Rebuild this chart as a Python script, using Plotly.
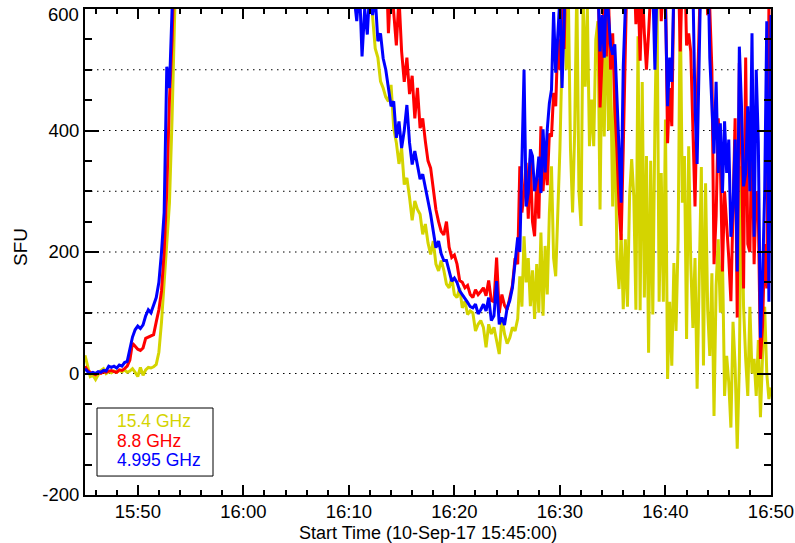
import pandas as pd
import plotly.graph_objects as go

# ---------------- data ----------------
# sampling segments (start time, number of samples, step)
seg_start = ["2017-09-10 15:45:00", "2017-09-10 15:55:00", "2017-09-10 16:09:30", "2017-09-10 16:26:00"]
seg_count = [37, 15, 66, 121]
seg_step = ["15s", "60s", "15s", "12s"]

# 15.4 GHz
y154_s1 = [30, 10, -5, -3, -10, -2, 5, 8, 0, 3, 1, 4, 2, 5, 3, 6, 2, 4, 8, 2, -5, 10, -3, 6, 10, 9, 11, 15,
           35, 85, 150, 200, 280, 420, 580, 700, 850]
y154_s2 = [1500, 2400, 3300, 4100, 4800, 5400, 5800, 5600, 5000, 4200, 3300, 2500, 1800, 1300, 1000]
y154_s3 = [800, 800, 790, 780, 770, 760, 740, 720, 700, 670,
           640, 580, 535, 520, 481, 470, 455, 448, 475, 404,
           380, 345, 371, 311, 322, 290, 252, 284, 270, 262,
           229, 246, 215, 196, 218, 180, 169, 186, 170, 147,
           141, 158, 130, 125, 141, 108, 119, 97, 103, 100,
           70, 81, 87, 76, 43, 81, 65, 76, 55, 32,
           92, 65, 49, 59, 76, 70]
y154_s4 = [90, 160, 110, 226, 150, 190, 111, 170, 90, 180,
           100, 232, 95, 210, 130, 264, 341, 190, 160, 260,
           370, 522, 640, 500, 620, 370, 265, 400, 640, 300,
           243, 620, 472, 600, 374, 451, 374, 550, 580, 270,
           560, 390, 620, 400, 500, 275, 470, 188, 139, 230,
           106, 221, 110, 292, 353, 292, 105, 555, 104, 480,
           125, 358, 34, 350, 97, 412, 620, 118, 330, 118,
           418, -9, 118, 13, 182, 70, 221, 620, 281, 358,
           57, 374, 180, 75, 190, -25, 150, 340, 13, 313,
           105, 29, 165, -70, 145, 221, 100, 195, -37, 29,
           -15, -89, 85, 13, -124, 13, 341, 110, 24, -37,
           110, 0, 24, -37, 55, -72, 30, 110, 0, -42, -23]

# 8.8 GHz
y88_s1 = [12, 5, 2, 0, -2, 1, 0, 3, 2, 4, 5, 3, 2, 6, 5, 8, 12, 22, 50, 45, 40, 38, 42, 58, 60, 62, 64, 85,
          105, 136, 200, 300, 450, 550, 650, 800, 900]
y88_s2 = [1400, 2200, 3000, 3800, 4500, 5000, 5300, 5100, 4600, 3900, 3100, 2400, 1800, 1400, 1150]
y88_s3 = [1100, 1080, 1050, 1020, 1000, 980, 950, 920, 900, 870,
          840, 800, 760, 720, 680, 640, 700, 560, 650, 600,
          540, 620, 530, 480, 520, 460, 490, 420, 470, 404,
          420, 382, 350, 338, 300, 270, 250, 234, 228, 250,
          208, 191, 195, 180, 153, 150, 141, 145, 130, 125,
          138, 130, 135, 141, 128, 153, 120, 118, 191, 100,
          130, 112, 105, 125, 145, 190]
y88_s4 = [180, 341, 265, 300, 347, 255, 355, 250, 226, 320,
          255, 407, 300, 358, 310, 395, 390, 462, 440, 550,
          500, 620, 534, 700, 720, 740, 760, 780, 800, 800,
          800, 800, 780, 760, 740, 720, 700, 680, 700, 438,
          520, 640, 522, 620, 500, 560, 438, 369, 275, 220,
          369, 620, 700, 720, 700, 680, 575, 640, 515, 640,
          560, 500, 560, 650, 700, 700, 700, 700, 580, 650,
          640, 379, 470, 407, 640, 700, 680, 530, 660, 700,
          540, 560, 530, 400, 275, 450, 640, 700, 700, 680,
          590, 600, 500, 180, 259, 420, 350, 168, 300, 250,
          190, 119, 300, 420, 92, 511, 380, 140, 520, 213,
          200, 420, 180, 300, 260, 24, 78, 213, 140, 600, 300]

# 4.995 GHz
y50_s1 = [8, 3, 0, 2, 0, 3, 2, 5, 4, 12, 10, 12, 9, 14, 12, 18, 20, 40, 60, 72, 78, 74, 80, 95, 105, 100,
          112, 125, 150, 200, 265, 505, 470, 620, 800, 900, 1000]
y50_s2 = [1300, 2000, 2700, 3400, 4000, 4400, 4600, 4400, 4000, 3400, 2700, 2100, 1600, 1200, 1000]
y50_s3 = [900, 700, 620, 700, 620, 580, 640, 522, 600, 558,
          640, 590, 620, 547, 560, 519, 500, 470, 440, 448,
          388, 415, 371, 400, 442, 380, 344, 366, 340, 320,
          328, 306, 289, 262, 234, 207, 218, 197, 186, 186,
          169, 152, 157, 150, 136, 130, 125, 117, 110, 108,
          114, 98, 105, 114, 103, 125, 87, 95, 152, 81,
          92, 80, 108, 120, 141, 185]
y50_s4 = [224, 200, 341, 500, 275, 297, 369, 358, 300, 320,
          357, 297, 402, 331, 402, 445, 467, 595, 495, 550,
          620, 470, 640, 700, 720, 740, 760, 780, 800, 800,
          800, 800, 780, 760, 740, 720, 700, 680, 640, 530,
          590, 520, 640, 595, 540, 525, 542, 456, 374, 281,
          505, 640, 700, 720, 700, 700, 700, 700, 700, 700,
          700, 700, 680, 700, 640, 500, 640, 700, 700, 700,
          600, 440, 520, 480, 640, 700, 700, 700, 700, 700,
          700, 700, 700, 640, 440, 345, 640, 700, 700, 700,
          700, 520, 450, 362, 480, 330, 412, 297, 415, 330,
          385, 225, 273, 385, 168, 538, 442, 308, 330, 440,
          300, 560, 225, 500, 380, 59, 156, 300, 580, 118, 590]

series_names = ["15.4 GHz", "8.8 GHz", "4.995 GHz"]
series_colors = ["#d4d400", "#ff0000", "#0000ff"]

x_tickvals = ["2017-09-10 15:50", "2017-09-10 16:00", "2017-09-10 16:10", "2017-09-10 16:20",
              "2017-09-10 16:30", "2017-09-10 16:40", "2017-09-10 16:50"]
x_ticktext = ["15:50", "16:00", "16:10", "16:20", "16:30", "16:40", "16:50"]
y_tickvals = [-200, 0, 200, 400, 600]
y_ticktext = ["-200", "0", "200", "400", "600"]
grid_levels = [0, 100, 200, 300, 400, 500]

# ---------------- build ----------------
times = pd.DatetimeIndex([])
for s, n, st in zip(seg_start, seg_count, seg_step):
    times = times.append(pd.date_range(s, periods=n, freq=st))

values = [
    y154_s1 + y154_s2 + y154_s3 + y154_s4,
    y88_s1 + y88_s2 + y88_s3 + y88_s4,
    y50_s1 + y50_s2 + y50_s3 + y50_s4,
]

FONT = "Liberation Sans, Arial, Helvetica, sans-serif"
fig = go.Figure()
for name, col, vals in zip(series_names, series_colors, values):
    fig.add_trace(go.Scatter(x=times, y=vals, mode="lines", name=name,
                             line=dict(color=col, width=3)))

for g in grid_levels:
    fig.add_hline(y=g, line=dict(color="black", width=1, dash="1.5px,4.5px"), layer="below")

fig.update_xaxes(
    range=["2017-09-10 15:45:00", "2017-09-10 16:50:00"],
    tickmode="array", tickvals=x_tickvals, ticktext=x_ticktext,
    ticks="inside", ticklen=10, tickwidth=2, tickcolor="black",
    minor=dict(tickmode="linear", tick0="2017-09-10 15:46:00", dtick=120000,
               ticks="inside", ticklen=5, tickwidth=2, tickcolor="black"),
    showline=True, linecolor="black", linewidth=2, mirror="ticks",
    showgrid=False, zeroline=False, automargin=False,
    ticklabelstandoff=-1, ticklabeloverflow="allow",
    tickfont=dict(family=FONT, size=18.5, color="black"),
)
# the top label ("600") is drawn as an annotation so it can sit just inside the page, as in the original
fig.update_yaxes(
    range=[-200, 600],
    tickmode="array", tickvals=y_tickvals,
    ticktext=[t if v != 600 else "" for v, t in zip(y_tickvals, y_ticktext)],
    ticks="inside", ticklen=14, tickwidth=2, tickcolor="black",
    minor=dict(tickmode="linear", tick0=0, dtick=50,
               ticks="inside", ticklen=7, tickwidth=2, tickcolor="black"),
    showline=True, linecolor="black", linewidth=2, mirror="ticks",
    showgrid=False, zeroline=False, automargin=False,
    ticklabeloverflow="allow",
    tickfont=dict(family=FONT, size=18.5, color="black"),
)

annotations = [
    dict(text="Start Time (10-Sep-17 15:45:00)", xref="paper", yref="paper", x=0.5, y=-0.0772,
         xanchor="center", yanchor="middle", showarrow=False, borderpad=0,
         font=dict(family=FONT, size=18, color="black")),
    dict(text="SFU", xref="paper", yref="paper", x=-0.095, y=0.51, textangle=-90,
         xanchor="center", yanchor="middle", showarrow=False, font=dict(family=FONT, size=19, color="black")),
    dict(text=y_ticktext[y_tickvals.index(600)], xref="paper", yref="y", x=0, y=600,
         xanchor="right", yanchor="middle", xshift=-5, yshift=-5, showarrow=False, borderpad=0,
         font=dict(family=FONT, size=18.5, color="black")),
]
legend_y = [0.153, 0.112, 0.071]
for name, col, ly in zip(series_names, series_colors, legend_y):
    annotations.append(dict(text=name, xref="paper", yref="paper", x=0.045, y=ly,
                            xanchor="left", yanchor="middle", showarrow=False, borderpad=0,
                            font=dict(family=FONT, size=17.5, color=col)))

fig.add_shape(type="rect", xref="paper", yref="paper", x0=0.0175, x1=0.1866, y0=0.039, y1=0.179,
              line=dict(color="black", width=1), fillcolor="white", layer="above")

fig.update_layout(
    width=795, height=543,
    margin=dict(l=85, r=24, t=9, b=48),
    plot_bgcolor="white", paper_bgcolor="white",
    showlegend=False,
    annotations=annotations,
    font=dict(family=FONT, size=19, color="black"),
)

fig.write_html("out.html", config={"displayModeBar": False},
               post_script="document.body.style.margin='0';document.body.style.overflow='hidden';")
